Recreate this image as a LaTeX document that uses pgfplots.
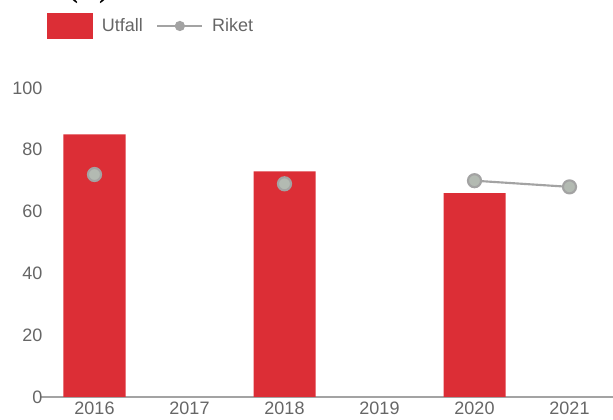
\documentclass[border=0pt]{standalone}
\usepackage{pgfplots}
\pgfplotsset{compat=1.18}
\usepackage{fontspec}
\setmainfont{Liberation Sans}
\newfontfamily\serifbold{Liberation Serif}
\definecolor{barred}{HTML}{DC2E36}
\definecolor{rikline}{HTML}{A3A3A3}
\definecolor{rikmark}{HTML}{B3BAB2}
\definecolor{ticktext}{HTML}{666666}

\begin{document}
\begin{tikzpicture}
\begin{axis}[
  at={(0pt,0pt)}, anchor=south west,
  scale only axis,
  width=427.5pt, height=231.75pt,
  xmin=-0.5, xmax=5.5, ymin=0, ymax=100,
  axis lines*=left,
  y axis line style={draw=none},
  x axis line style={draw=rikline, line width=1.1pt, shorten <=-5pt},
  tick style={draw=none},
  xtick={0,...,5},
  xticklabels={2016,2017,2018,2019,2020,2021},
  ytick={0,20,...,100},
  tick label style={font=\fontsize{13.5}{16}\selectfont, text=ticktext},
  /pgf/number format/assume math mode=true,
  unbounded coords=jump,
  clip=false,
  legend columns=-1,
  legend style={draw=none, fill=none, at={(axis description cs:0,1)},
    anchor=west, yshift=46.5pt, inner sep=0pt,
    font=\fontsize{13.5}{16}\selectfont, text=ticktext,
    /tikz/every odd column/.append style={column sep=4.5pt},
    /tikz/every even column/.append style={column sep=8pt}},
]
\addplot[ybar, bar width=46.5pt, fill=barred, draw=none,
  legend image code/.code={\fill[barred] (0pt,-9.4pt) rectangle (34.5pt,9.4pt);}]
  coordinates {(0,85) (2,73) (4,66)};
\addlegendentry{Utfall}
\addplot[rikline, line width=1.6pt, mark=*, mark size=4.9pt,
  mark options={fill=rikmark, draw=none},
  legend image code/.code={\draw[rikline, line width=1.6pt] (0pt,0pt) -- (33.75pt,0pt);
    \fill[rikline] (16.9pt,0pt) circle (3pt);}]
  coordinates {(0,72) (1,nan) (2,69) (3,nan) (4,70) (5,68)};
\addlegendentry{Riket}
\end{axis}
\node[anchor=base west, inner sep=0pt, font=\serifbold\bfseries\fontsize{22}{26}\selectfont] at (15.75pt,299.25pt) {(A)};
\pgfresetboundingbox
\path (-35.25pt,-17.25pt) rectangle (424.5pt,297.75pt);
\end{tikzpicture}
\end{document}
